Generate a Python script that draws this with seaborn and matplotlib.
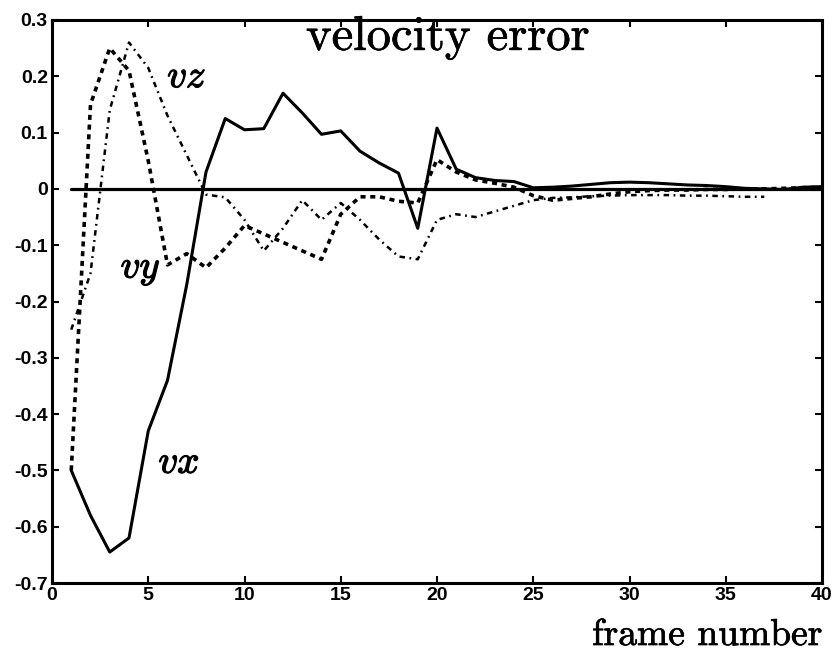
import numpy as np
import pandas as pd
import seaborn as sns
import matplotlib.pyplot as plt
import matplotlib.patheffects as pe

# frame indices and velocity error components
frames = list(range(1, 41))
vx = [-0.50, -0.58, -0.645, -0.62, -0.43, -0.34, -0.17, 0.03, 0.125, 0.105,
      0.107, 0.17, 0.135, 0.097, 0.103, 0.067, 0.046, 0.028, -0.07, 0.108,
      0.035, 0.02, 0.015, 0.013, 0.002, 0.003, 0.005, 0.008, 0.011, 0.012,
      0.011, 0.009, 0.007, 0.006, 0.004, 0.001, 0.0, -0.001, 0.003, 0.004]
vy = [-0.50, 0.15, 0.25, 0.21, 0.05, -0.135, -0.115, -0.14, -0.105, -0.065,
      -0.08, -0.095, -0.11, -0.125, -0.045, -0.014, -0.014, -0.022, -0.025, 0.052,
      0.03, 0.016, 0.01, 0.003, -0.012, -0.02, -0.017, -0.014, -0.009, -0.005,
      -0.003, -0.002, -0.002, -0.001, -0.001, 0.0, 0.0, 0.001, 0.002, 0.003]
vz_frames = list(range(1, 38))
vz = [-0.25, -0.15, 0.14, 0.26, 0.215, 0.13, 0.06, -0.01, -0.015, -0.055,
      -0.11, -0.07, -0.02, -0.055, -0.025, -0.055, -0.09, -0.12, -0.125, -0.055,
      -0.045, -0.05, -0.04, -0.03, -0.02, -0.016, -0.015, -0.013, -0.012, -0.011,
      -0.011, -0.011, -0.012, -0.012, -0.013, -0.014, -0.014]
zero = [0.0] * len(frames)

x_ticks = [0, 5, 10, 15, 20, 25, 30, 35, 40]
y_ticks = [0.3, 0.2, 0.1, 0.0, -0.1, -0.2, -0.3, -0.4, -0.5, -0.6, -0.7]
y_tick_labels = ["0.3", "0.2", "0.1", "0", "-0.1", "-0.2", "-0.3", "-0.4",
                 "-0.5", "-0.6", "-0.7"]

sns.set_theme(style="ticks")
plt.rcParams["mathtext.fontset"] = "cm"

fig = plt.figure(figsize=(8.35, 6.57), dpi=100)
ax = fig.add_axes([52 / 835, 1 - 583 / 657, (822 - 52) / 835, (583 - 20) / 657])

df_x = pd.DataFrame({"frame": frames, "v": vx})
df_y = pd.DataFrame({"frame": frames, "v": vy})
df_z = pd.DataFrame({"frame": vz_frames, "v": vz})
df_0 = pd.DataFrame({"frame": frames, "v": zero})

sns.lineplot(data=df_0, x="frame", y="v", ax=ax, color="black", lw=2.3)
sns.lineplot(data=df_x, x="frame", y="v", ax=ax, color="black", lw=2.2)
ly = sns.lineplot(data=df_y, x="frame", y="v", ax=ax, color="black", lw=2.6)
ly.lines[-1].set_dashes((1.4, 1.3))
lz = sns.lineplot(data=df_z, x="frame", y="v", ax=ax, color="black", lw=1.8)
lz.lines[-1].set_dashes((2.2, 1.8, 0.7, 1.8))

ax.set_xlim(0, 40)
ax.set_ylim(-0.7, 0.3)
ax.set_xticks(x_ticks)
ax.set_yticks(y_ticks)
ax.set_yticklabels(y_tick_labels)
ax.set_xlabel("")
ax.set_ylabel("")

for lab in ax.get_xticklabels() + ax.get_yticklabels():
    lab.set_family(["Liberation Sans", "DejaVu Sans"])
    lab.set_weight("bold")
    lab.set_size(14)
ax.tick_params(direction="in", length=5, width=1.5, top=True, right=True,
               colors="black", pad=3)
for s in ax.spines.values():
    s.set_linewidth(2.2)
    s.set_color("black")

thin_stroke = [pe.withStroke(linewidth=0.5, foreground="black")]
thick = [pe.withStroke(linewidth=0.9, foreground="black")]
ax.text(0.514, 0.947, "velocity error", transform=ax.transAxes, ha="center",
        va="baseline", family="cmr10", fontsize=35, color="black",
        path_effects=thin_stroke)
label_kw = dict(fontsize=28, ha="center", va="center", color="black",
                path_effects=thick)
ax.text(7.0, 0.20, r"$vz$", **label_kw)
ax.text(4.6, -0.14, r"$vy$", **label_kw)
ax.text(6.6, -0.485, r"$vx$", **label_kw)
fig.text(822 / 835, 1 - 645 / 657, "frame number", ha="right", va="baseline",
         family="cmr10", fontsize=27, color="black", path_effects=thin_stroke)

fig.savefig("out.png", dpi=100, facecolor="white")
